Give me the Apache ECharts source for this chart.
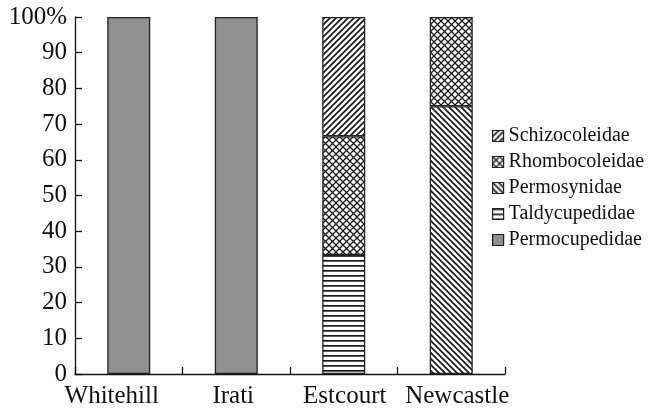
<!DOCTYPE html>
<html>
<head>
<meta charset="utf-8">
<script src="https://cdn.jsdelivr.net/npm/echarts@6/dist/echarts.min.js"></script>
<style>
html,body{margin:0;padding:0;background:#fff;}
#chart{width:652px;height:412px;}
</style>
</head>
<body>
<div id="chart"></div>
<script>
// ---- data ----
var categories = ['Whitehill', 'Irati', 'Estcourt', 'Newcastle'];
var permocupedidae = [100, 100, null, null];
var taldycupedidae = [null, null, 33.3, null];
var permosynidae   = [null, null, null, 75];
var rhombocoleidae = [null, null, 33.3, 25];
var schizocoleidae = [null, null, 33.4, null];
var yTicks = [0, 10, 20, 30, 40, 50, 60, 70, 80, 90, 100];
var legendOrder = ['Schizocoleidae', 'Rhombocoleidae', 'Permosynidae', 'Taldycupedidae', 'Permocupedidae'];

// ---- patterns ----
function makePattern(w, h, draw) {
  var c = document.createElement('canvas');
  c.width = w; c.height = h;
  var ctx = c.getContext('2d');
  ctx.fillStyle = '#fff';
  ctx.fillRect(0, 0, w, h);
  ctx.strokeStyle = '#1a1a1a';
  draw(ctx, w, h);
  return c;
}
var fwd = makePattern(6, 6, function (ctx, w, h) {   // "/"
  ctx.lineWidth = 1.7;
  ctx.beginPath();
  ctx.moveTo(-1, h + 1); ctx.lineTo(w + 1, -1);
  ctx.moveTo(-2, 2); ctx.lineTo(2, -2);
  ctx.moveTo(w - 2, h + 2); ctx.lineTo(w + 2, h - 2);
  ctx.stroke();
});
var back = makePattern(6, 6, function (ctx, w, h) {  // "\"
  ctx.lineWidth = 1.7;
  ctx.beginPath();
  ctx.moveTo(-1, -1); ctx.lineTo(w + 1, h + 1);
  ctx.moveTo(w - 2, -2); ctx.lineTo(w + 2, 2);
  ctx.moveTo(-2, h - 2); ctx.lineTo(2, h + 2);
  ctx.stroke();
});
var cross = makePattern(7, 7, function (ctx, w, h) {
  ctx.lineWidth = 1.3;
  ctx.beginPath();
  ctx.moveTo(-1, -1); ctx.lineTo(w + 1, h + 1);
  ctx.moveTo(-1, h + 1); ctx.lineTo(w + 1, -1);
  ctx.stroke();
});
var horiz = makePattern(6, 5.4, function (ctx, w, h) {
  ctx.fillStyle = '#1a1a1a';
  ctx.fillRect(0, 0, w, 1.7);
});

function pat(c) { return { image: c, repeat: 'repeat' }; }

var border = { borderColor: '#222', borderWidth: 1.3 };
function series(name, data, color) {
  return {
    name: name, type: 'bar', stack: 'all', data: data, barWidth: 43,
    itemStyle: Object.assign({ color: color }, border)
  };
}

var chart = echarts.init(document.getElementById('chart'), null, { renderer: 'canvas' });
var FONT = '"Liberation Serif", "Times New Roman", serif';
chart.setOption({
  animation: false,
  backgroundColor: '#fff',
  grid: { left: 75, right: 147, top: 17, bottom: 38 },
  legend: {
    orient: 'vertical',
    left: 487, top: 121,
    icon: 'rect',
    itemWidth: 11, itemHeight: 11, itemGap: 6,
    data: legendOrder,
    textStyle: { fontFamily: FONT, fontSize: 20, color: '#111' },
    itemStyle: { borderColor: '#222', borderWidth: 1.2 }
  },
  xAxis: {
    type: 'category',
    boundaryGap: true,
    data: [
      { value: categories[0], textStyle: { padding: [0, 34, 0, 0] } },
      { value: categories[1], textStyle: { padding: [0, 6, 0, 0] } },
      { value: categories[2], textStyle: { padding: [0, 0, 0, 2] } },
      { value: categories[3], textStyle: { padding: [0, 0, 0, 12] } }
    ],
    axisLine: { show: true, lineStyle: { color: '#111', width: 1.3 } },
    axisTick: { show: true, alignWithLabel: false, inside: true, interval: 0, length: 7, lineStyle: { color: '#111', width: 1.3 } },
    axisLabel: { interval: 0, fontFamily: FONT, fontSize: 25, color: '#111', margin: 10 }
  },
  yAxis: {
    type: 'value', min: yTicks[0], max: yTicks[yTicks.length - 1], interval: 10,
    splitLine: { show: false },
    axisLine: { show: true, lineStyle: { color: '#111', width: 1.3 } },
    axisTick: { show: true, inside: true, length: 7, lineStyle: { color: '#111', width: 1.3 } },
    axisLabel: {
      fontFamily: FONT, fontSize: 25, color: '#111', margin: 8,
      formatter: function (v) { return v === 100 ? '100%' : String(v); }
    }
  },
  series: [
    series('Permocupedidae', permocupedidae, '#909090'),
    series('Taldycupedidae', taldycupedidae, pat(horiz)),
    series('Permosynidae', permosynidae, pat(back)),
    series('Rhombocoleidae', rhombocoleidae, pat(cross)),
    series('Schizocoleidae', schizocoleidae, pat(fwd))
  ]
});
</script>
</body>
</html>
